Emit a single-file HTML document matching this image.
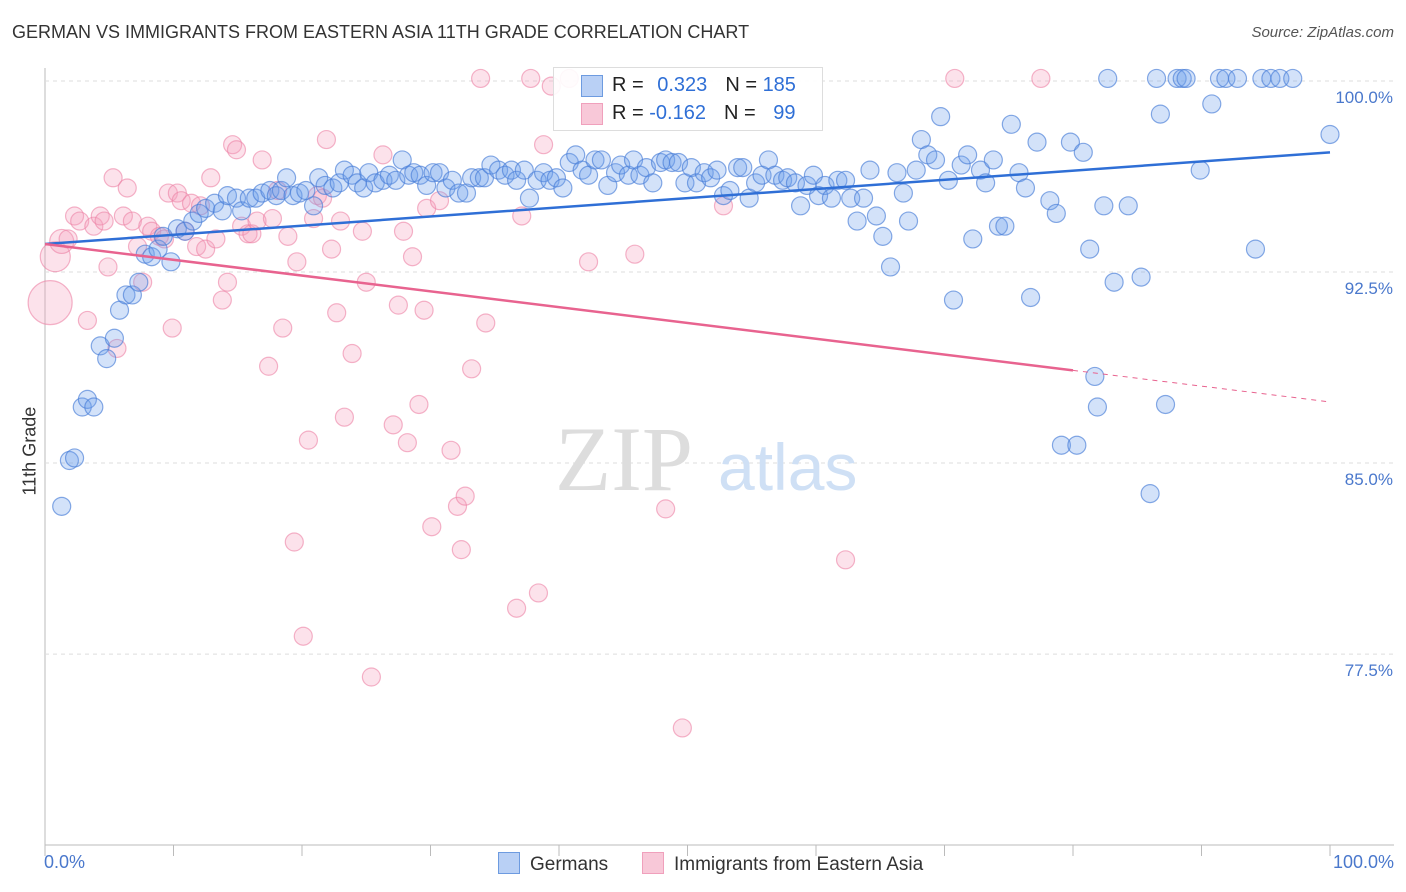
<!DOCTYPE html>
<html><head><meta charset="utf-8">
<style>
body{margin:0;background:#fff;font-family:"Liberation Sans",sans-serif;}
#wrap{position:relative;width:1406px;height:892px;overflow:hidden;}
.t{position:absolute;white-space:nowrap;}
</style></head>
<body>
<div id="wrap">
<div class="t" style="left:12px;top:22px;font-size:18px;color:#333;">GERMAN VS IMMIGRANTS FROM EASTERN ASIA 11TH GRADE CORRELATION CHART</div>
<div class="t" style="right:12px;top:24px;font-size:15px;color:#555;font-style:italic;">Source: ZipAtlas.com</div>
<svg id="svg" width="1406" height="892" style="position:absolute;left:0;top:0"></svg>
</div>
<script>
const yTicks=[100,92.5,85,77.5];
const yTickLabels=["100.0%","92.5%","85.0%","77.5%"];
const blueX=[1.3,1.9,2.3,2.9,3.3,3.8,4.3,4.8,5.4,5.8,6.3,6.8,7.3,7.8,8.3,8.8,9.2,9.8,10.3,10.9,11.5,12.0,12.5,13.2,13.8,14.2,14.9,15.3,15.9,16.4,16.9,17.5,18.0,18.4,18.8,19.3,19.8,20.3,20.9,21.3,21.8,22.4,22.9,23.3,23.9,24.3,24.8,25.2,25.7,26.3,26.8,27.3,27.8,28.3,28.7,29.2,29.7,30.2,30.7,31.2,31.7,32.2,32.8,33.2,33.8,34.2,34.7,35.3,35.8,36.3,36.7,37.3,37.7,38.3,38.8,39.3,39.8,40.3,40.8,41.3,41.8,42.3,42.8,43.3,43.8,44.4,44.8,45.4,45.8,46.3,46.8,47.3,47.9,48.3,48.8,49.3,49.8,50.3,50.7,51.3,51.8,52.3,52.8,53.3,53.9,54.3,54.8,55.3,55.8,56.3,56.8,57.4,57.8,58.4,58.8,59.3,59.8,60.2,60.7,61.2,61.7,62.3,62.7,63.2,63.7,64.2,64.7,65.2,65.8,66.3,66.8,67.2,67.8,68.2,68.7,69.3,69.7,70.3,70.7,71.3,71.8,72.2,72.8,73.2,73.8,74.2,74.7,75.2,75.8,76.3,76.7,77.2,78.2,78.7,79.1,79.8,80.3,80.8,81.3,81.7,81.9,82.4,82.7,83.2,84.3,85.3,86.0,86.5,86.8,87.2,88.1,88.5,88.8,89.9,90.8,91.4,91.9,92.8,94.2,94.7,95.4,96.1,97.1,100];
const blueY=[83.3,85.1,85.2,87.2,87.5,87.2,89.6,89.1,89.9,91.0,91.6,91.6,92.1,93.2,93.1,93.4,93.9,92.9,94.2,94.1,94.5,94.8,95.0,95.2,94.9,95.5,95.4,94.9,95.4,95.4,95.6,95.7,95.5,95.7,96.2,95.5,95.6,95.7,95.1,96.2,95.9,95.8,96.0,96.5,96.3,96.0,95.8,96.4,96.0,96.1,96.3,96.1,96.9,96.3,96.4,96.3,95.9,96.4,96.4,95.8,96.1,95.6,95.6,96.2,96.2,96.2,96.7,96.5,96.3,96.5,96.1,96.5,95.4,96.1,96.4,96.1,96.2,95.8,96.8,97.1,96.5,96.3,96.9,96.9,95.9,96.4,96.7,96.3,96.9,96.3,96.6,96.0,96.8,96.9,96.8,96.8,96.0,96.6,96.0,96.4,96.2,96.5,95.5,95.7,96.6,96.6,95.4,96.0,96.3,96.9,96.3,96.1,96.2,96.0,95.1,95.9,96.3,95.5,95.9,95.4,96.1,96.1,95.4,94.5,95.4,96.5,94.7,93.9,92.7,96.4,95.6,94.5,96.5,97.7,97.1,96.9,98.6,96.1,91.4,96.7,97.1,93.8,96.5,96.0,96.9,94.3,94.3,98.3,96.4,95.8,91.5,97.6,95.3,94.8,85.7,97.6,85.7,97.2,93.4,88.4,87.2,95.1,100.1,92.1,95.1,92.3,83.8,100.1,98.7,87.3,100.1,100.1,100.1,96.5,99.1,100.1,100.1,100.1,93.4,100.1,100.1,100.1,100.1,97.9];
const pinkX=[0.4,0.8,1.3,1.8,2.3,2.7,3.3,3.8,4.3,4.6,4.9,5.3,5.6,6.1,6.4,6.8,7.2,7.6,8.0,8.3,8.9,9.3,9.6,9.9,10.3,10.6,10.9,11.4,11.8,12.1,12.5,12.9,13.3,13.8,14.2,14.6,14.9,15.3,15.8,16.1,16.5,16.9,17.4,17.7,18.1,18.5,18.9,19.4,19.6,20.1,20.5,20.9,21.2,21.6,21.9,22.3,22.7,23.0,23.3,23.9,24.7,25.0,25.4,26.3,27.1,27.5,27.9,28.2,28.6,29.1,29.5,29.7,30.1,30.7,31.6,32.1,32.4,32.7,33.2,33.9,34.3,36.7,37.1,37.8,38.4,38.8,39.4,40.8,42.3,45.9,48.3,49.6,52.8,62.3,70.8,77.5];
const pinkY=[91.3,93.1,93.7,93.8,94.7,94.5,90.6,94.3,94.7,94.5,92.7,96.2,89.5,94.7,95.8,94.5,93.5,92.1,94.3,94.1,93.9,93.8,95.6,90.3,95.6,95.3,94.1,95.2,93.5,95.1,93.4,96.2,93.8,91.4,92.1,97.5,97.3,94.3,94.0,94.0,94.5,96.9,88.8,94.6,95.7,90.3,93.9,81.9,92.9,78.2,85.9,94.6,95.5,95.4,97.7,93.4,90.9,94.5,86.8,89.3,94.1,92.1,76.6,97.1,86.5,91.2,94.1,85.8,93.1,87.3,91.0,95.0,82.5,95.3,85.5,83.3,81.6,83.7,88.7,100.1,90.5,79.3,94.7,100.1,79.9,97.5,99.8,100.1,92.9,93.2,83.2,74.6,95.1,81.2,100.1,100.1];
const pinkR=[22,15,12];
const blueTrend=[93.6,97.2];
const pinkTrend=[93.6,87.4];

const X0=45,X1=1330,YT=81,PERY=25.47;
const sx=v=>X0+(X1-X0)*v/100;
const sy=v=>YT+(100-v)*PERY;
const svg=document.getElementById('svg');
const NS='http://www.w3.org/2000/svg';
function mk(tag,attrs,parent){const e=document.createElementNS(NS,tag);for(const k in attrs)e.setAttribute(k,attrs[k]);(parent||svg).appendChild(e);return e;}

// axes
let ax=mk('line',{x1:X0,y1:68,x2:X0,y2:845,stroke:'#bbb','stroke-width':1});


let bx=mk('line',{x1:X0,y1:845,x2:1394,y2:845,stroke:'#bbb','stroke-width':1});


for(let i=0;i<=10;i++){
  const t=mk('line',{x1:sx(i*10),y1:845,x2:sx(i*10),y2:856,stroke:'#bbb'});
  
  
}
yTicks.forEach((v,i)=>{
  const g=mk('line',{x1:X0,y1:sy(v),x2:1394,y2:sy(v),stroke:'#ddd','stroke-dasharray':'4,4'});
  
  
  const t=mk('text',{x:1393,y:sy(v)+22,'text-anchor':'end','font-size':17,fill:'#4a78cc','font-family':'Liberation Sans, sans-serif'});
  t.textContent=yTickLabels[i];
  
  
});
// watermark
let wm=mk('text',{x:555,y:490,'font-size':92,fill:'#ddd','font-family':'Liberation Serif, serif'});wm.textContent='ZIP';


let wm2=mk('text',{x:718,y:490,'font-size':66,fill:'#cfe0f5','font-family':'Liberation Sans, sans-serif'});wm2.textContent='atlas';



pinkX.forEach((x,i)=>{
  const c=mk('circle',{cx:sx(x),cy:sy(pinkY[i]),r:pinkR[i]||9,fill:'rgba(244,160,188,0.3)',stroke:'rgba(236,130,165,0.6)','stroke-width':1.2});
  
  
});
blueX.forEach((x,i)=>{
  const c=mk('circle',{cx:sx(x),cy:sy(blueY[i]),r:9,fill:'rgba(110,160,235,0.3)',stroke:'rgba(70,125,215,0.65)','stroke-width':1.2});
  
  
});
let bl=mk('line',{x1:sx(0),y1:sy(blueTrend[0]),x2:sx(100),y2:sy(blueTrend[1]),stroke:'#2f6fd6','stroke-width':2.5});


const pAt=x=>pinkTrend[0]+(pinkTrend[1]-pinkTrend[0])*x/100;
let pl=mk('line',{x1:sx(0),y1:sy(pAt(0)),x2:sx(80),y2:sy(pAt(80)),stroke:'#e8638f','stroke-width':2.5});


let pd=mk('line',{x1:sx(80),y1:sy(pAt(80)),x2:sx(100),y2:sy(pAt(100)),stroke:'#e8638f','stroke-width':1,'stroke-dasharray':'5,5'});


</script>
<div class="t" style="left:-10px;top:445px;font-size:18px;color:#333;transform:rotate(-90deg);transform-origin:center;width:80px;text-align:center;">11th Grade</div>
<div class="t" style="left:44px;top:852px;font-size:18px;color:#4a78cc;">0.0%</div>
<div class="t" style="right:12px;top:852px;font-size:18px;color:#4a78cc;">100.0%</div>
<div class="t" style="left:553px;top:67px;width:268px;height:62px;border:1px solid #ddd;background:rgba(255,255,255,0.9);font-size:20px;color:#222;">
  <div style="position:absolute;left:27px;top:7px;width:20px;height:20px;background:#b9d0f5;border:1px solid #6d9be0;"></div>
  <div style="position:absolute;left:58px;top:6px;">R = <span style="color:#2f6fd6;margin-left:8px">0.323</span><span style="margin-left:18px">N = </span><span style="color:#2f6fd6">185</span></div>
  <div style="position:absolute;left:27px;top:35px;width:20px;height:20px;background:#f8c8d8;border:1px solid #f0a0bc;"></div>
  <div style="position:absolute;left:58px;top:34px;">R = <span style="color:#2f6fd6">-0.162</span><span style="margin-left:18px">N = </span><span style="color:#2f6fd6;margin-left:12px">99</span></div>
</div>
<div class="t" style="left:498px;top:852px;font-size:19px;color:#333;"><span style="display:inline-block;width:20px;height:20px;background:#b9d0f5;border:1px solid #6d9be0;vertical-align:-4px;margin-right:10px"></span>Germans</div>
<div class="t" style="left:642px;top:852px;font-size:19px;color:#333;"><span style="display:inline-block;width:20px;height:20px;background:#f8c8d8;border:1px solid #f0a0bc;vertical-align:-4px;margin-right:10px"></span>Immigrants from Eastern Asia</div>
</body></html>
